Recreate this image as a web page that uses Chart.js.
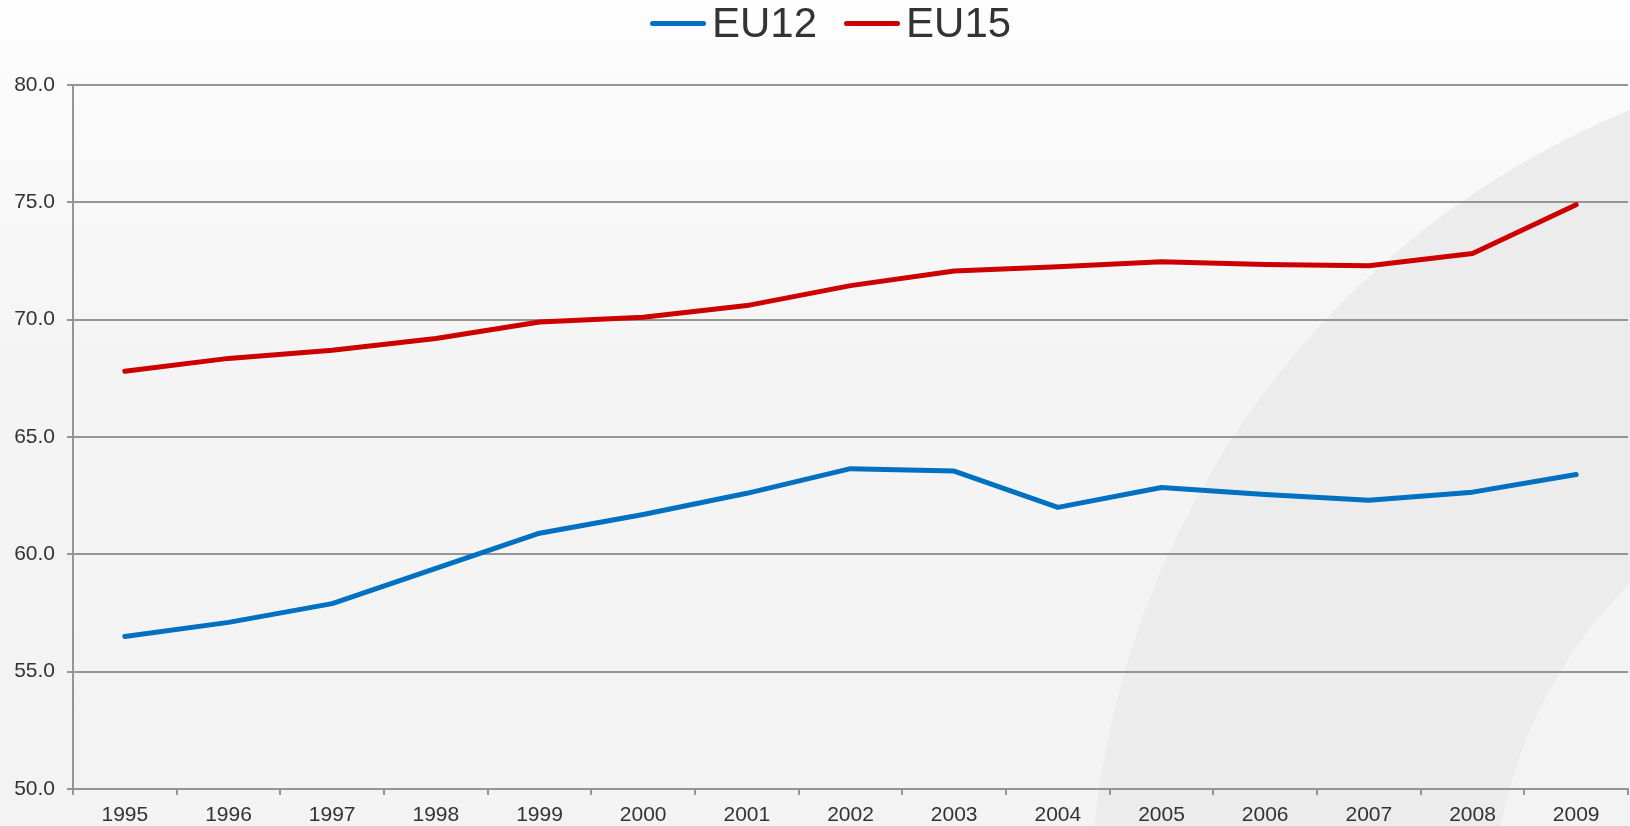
<!DOCTYPE html>
<html>
<head>
<meta charset="utf-8">
<script src="https://cdn.jsdelivr.net/npm/chart.js@4/dist/chart.umd.min.js"></script>
<style>
  body { margin: 0; background: #f4f4f4; }
  .wrap { position: relative; width: 1630px; height: 826px; }
  #legend {
    position: absolute; left: 650px; top: 0; height: 46px;
    display: flex; align-items: center; gap: 27px;
    font-family: "Liberation Sans", Arial, sans-serif; font-size: 42px; color: #333;
  }
  #legend .item { display: flex; align-items: center; gap: 6px; }
  #legend .swatch { width: 56px; height: 5px; border-radius: 3px; }
</style>
</head>
<body>
<div class="wrap">
  <canvas id="myChart" width="1630" height="826"></canvas>
  <div id="legend"></div>
</div>
<script>
const years = ["1995", "1996", "1997", "1998", "1999", "2000", "2001", "2002", "2003", "2004", "2005", "2006", "2007", "2008", "2009"];
const eu12 = [56.5, 57.1, 57.9, 59.4, 60.9, 61.7, 62.6, 63.65, 63.55, 62.0, 62.85, 62.55, 62.3, 62.65, 63.4];
const eu15 = [67.8, 68.35, 68.7, 69.2, 69.9, 70.1, 70.6, 71.45, 72.07, 72.25, 72.47, 72.35, 72.3, 72.82, 74.9];
const seriesNames = ["EU12", "EU15"];
const seriesColors = ["#0070c0", "#cc0000"];

// backdrop: light gradient with the grey swoosh on the right
const backdrop = {
  id: "backdrop",
  beforeDraw(chart) {
    const c = chart.ctx;
    const w = chart.width, h = chart.height;
    c.save();
    const g = c.createLinearGradient(0, 0, 0, h);
    g.addColorStop(0, "#fdfdfd");
    g.addColorStop(0.45, "#f4f4f4");
    g.addColorStop(1, "#f3f3f3");
    c.fillStyle = g;
    c.fillRect(0, 0, w, h);
    c.beginPath();
    c.arc(1960, 915, 870, 0, Math.PI * 2);
    c.arc(1960, 915, 468, 0, Math.PI * 2, true);
    c.fillStyle = "#ececec";
    c.fill("evenodd");
    c.restore();
  }
};

const legend = document.getElementById("legend");
seriesNames.forEach((name, i) => {
  const item = document.createElement("div");
  item.className = "item";
  item.innerHTML = '<span class="swatch" style="background:' + seriesColors[i] + '"></span><span>' + name + '</span>';
  legend.appendChild(item);
});

const ctx = document.getElementById("myChart");

new Chart(ctx, {
  type: "line",
  data: {
    labels: years,
    datasets: [
      {
        label: seriesNames[0],
        data: eu12,
        borderColor: seriesColors[0],
        backgroundColor: seriesColors[0],
        borderWidth: 5,
        pointRadius: 0,
        tension: 0,
        borderCapStyle: "round",
        borderJoinStyle: "round",
      },
      {
        label: seriesNames[1],
        data: eu15,
        borderColor: seriesColors[1],
        backgroundColor: seriesColors[1],
        borderWidth: 5,
        pointRadius: 0,
        tension: 0,
        borderCapStyle: "round",
        borderJoinStyle: "round",
      }
    ]
  },
  options: {
    responsive: false,
    animation: false,
    devicePixelRatio: 1,
    layout: { padding: { top: 85, right: 2, left: 0, bottom: 0 } },
    plugins: {
      legend: { display: false },
      tooltip: { enabled: false },
    },
    scales: {
      y: {
        min: 50,
        max: 80,
        afterFit(scale) { scale.width = 73; },
        ticks: {
          stepSize: 5,
          padding: 12,
          color: "#333",
          font: { family: "'Liberation Sans', Arial, sans-serif", size: 21 },
          callback: (v) => v.toFixed(1),
        },
        grid: { color: "#959595", lineWidth: 2, tickLength: 6 },
        border: { color: "#959595", width: 2 },
      },
      x: {
        offset: true,
        afterFit(scale) { scale.height = 37; },
        ticks: {
          padding: 8,
          maxRotation: 0,
          color: "#333",
          font: { family: "'Liberation Sans', Arial, sans-serif", size: 21 },
        },
        grid: { drawOnChartArea: false, offset: true, color: "#959595", lineWidth: 2, tickLength: 6 },
        border: { color: "#959595", width: 2 },
      },
    },
  },
  plugins: [backdrop],
});
</script>
</body>
</html>
